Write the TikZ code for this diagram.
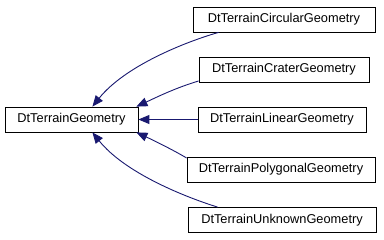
\documentclass[tikz,border=0pt]{standalone}
\usepackage{fontspec}
\setmainfont{Liberation Sans}
\usepackage{xcolor}
\usetikzlibrary{arrows.meta, positioning, calc}

\definecolor{edgeblue}{HTML}{191970}

\begin{document}
\begin{tikzpicture}[x=1pt, y=-1pt,
    every node/.style={draw=black, line width=0.8pt, fill=white, minimum height=25pt,
        inner sep=0pt, font=\fontsize{12.8}{14}\selectfont},
    hier/.style={draw=edgeblue, line width=0.9pt, -{Triangle[length=11pt, width=9pt]}}]
    \useasboundingbox (0,0) rectangle (384,240);
    % base class
    \node[minimum width=133pt] (base) at (71.5,119.5) {DtTerrainGeometry};
    % derived classes
    \node[minimum width=182pt] (circ) at (284,19.5) {DtTerrainCircularGeometry};
    \node[minimum width=170pt] (crat) at (284,69.5) {DtTerrainCraterGeometry};
    \node[minimum width=168pt] (lin) at (282,119.5) {DtTerrainLinearGeometry};
    \node[minimum width=188pt] (poly) at (281,169.5) {DtTerrainPolygonalGeometry};
    \node[minimum width=188pt] (unkn) at (282,220) {DtTerrainUnknownGeometry};
    % inheritance arrows
    \draw[hier] ($(circ.south west)+(26,0)$) .. controls (185,42) and (125,66) .. ($(base.north east)+(-46,0)$);
    \draw[hier] (crat.west |- 0,81) .. controls (175,88) and (155,98) .. ($(base.north east)+(-2,0)$);
    \draw[hier] (lin) -- (base);
    \draw[hier] (poly.west |- 0,158) .. controls (175,151) and (155,141) .. ($(base.south east)+(-2,0)$);
    \draw[hier] ($(unkn.north west)+(30,0)$) .. controls (185,197) and (125,173) .. ($(base.south east)+(-46,0)$);
\end{tikzpicture}
\end{document}
